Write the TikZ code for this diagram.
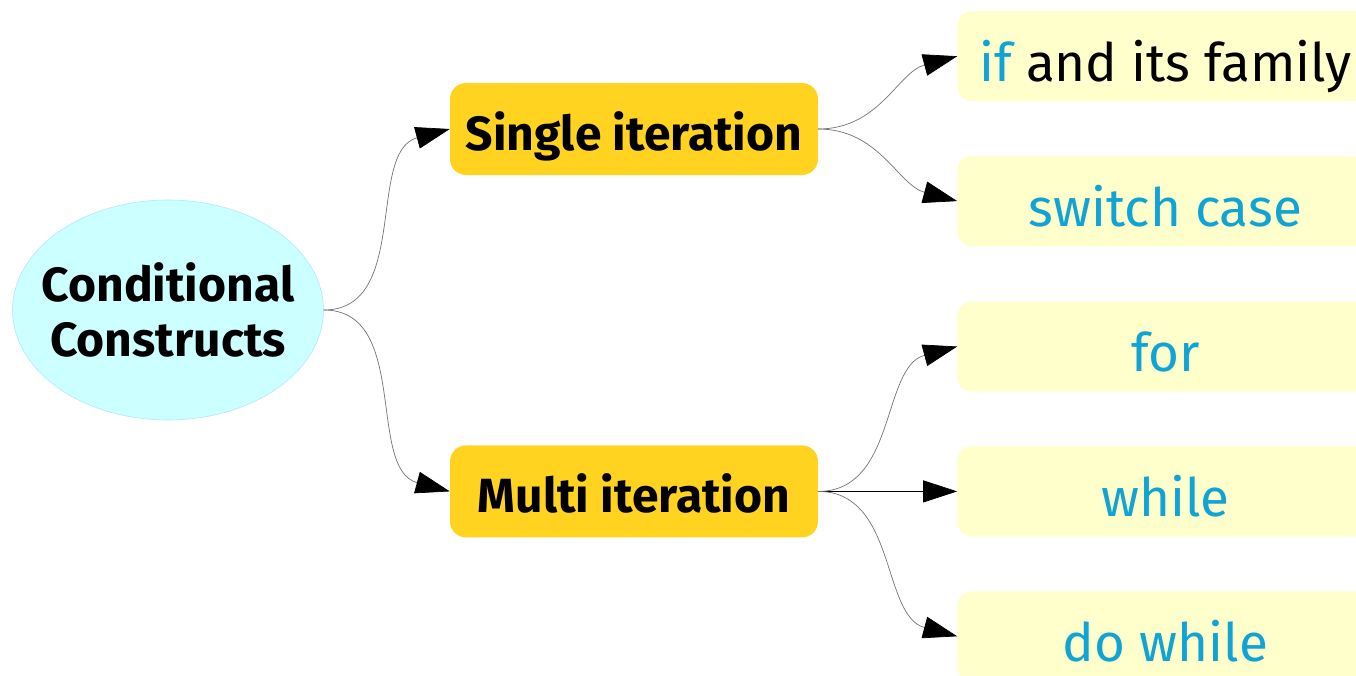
\documentclass[tikz,border=0pt]{standalone}
\usepackage{fontspec}
\setmainfont{Fira Sans}
\usetikzlibrary{positioning}
\usetikzlibrary{arrows.meta}
\usetikzlibrary{shapes.geometric}
\definecolor{rootfill}{RGB}{204,255,255}
\definecolor{rootline}{RGB}{175,232,250}
\definecolor{branchfill}{RGB}{255,211,32}
\definecolor{leaffill}{RGB}{255,255,204}
\definecolor{leaftext}{RGB}{16,164,212}

\begin{document}
\begin{tikzpicture}[x=1pt,y=1pt,>={Triangle[length=34pt,width=22pt,black]},
                    root node/.style={ellipse,fill=rootfill,draw=rootline,line width=0.6pt,
                      minimum width=311pt,minimum height=220pt,inner xsep=-17pt,inner ysep=0pt,
                      align=center,font=\fontsize{48}{55}\selectfont\bfseries},
                    branch node/.style={rectangle,rounded corners=16pt,fill=branchfill,
                      minimum width=368pt,minimum height=92pt,inner sep=0pt,
                      text height=42pt,text depth=0pt,
                      font=\fontsize{48}{55}\selectfont\bfseries},
                    leaf node/.style={rectangle,rounded corners=14pt,fill=leaffill,
                      minimum width=416pt,minimum height=90pt,inner sep=0pt,
                      text height=50pt,text depth=0pt,
                      text=leaftext,font=\fontsize{53}{60}\selectfont},
                    link/.style={->,draw=black!55,line width=0.7pt}]
  \useasboundingbox (0,0) rectangle (1356,-675);

  \node[root node] (cc) at (168,-310) {Conditional\\Constructs};
  \node[branch node] (single) at (634,-129) {Single iteration};
  \node[branch node] (multi) [below=270pt of single] {Multi iteration};

  \node[leaf node] (while) [right=139pt of multi] {while};
  \node[leaf node] (for) [above=54.5pt of while] {for};
  \node[leaf node] (dowhile) [below=54.5pt of while] {do while};
  \node[leaf node] (switch) [above=55pt of for] {switch case};
  \node[leaf node] (iffam) [above=54.5pt of switch] {if \textcolor{black}{and its family}};

  \path[every edge/.style={link}]
    (cc.east) edge[out=0,in=195] (single.west)
              edge[out=0,in=165] (multi.west)
    (single.east) edge[out=0,in=195] (iffam.west)
                  edge[out=0,in=165] (switch.west)
    (multi.east) edge[out=0,in=195] (for.west)
                 edge[draw=black] (while.west)
                 edge[out=0,in=165] (dowhile.west);
\end{tikzpicture}
\end{document}
